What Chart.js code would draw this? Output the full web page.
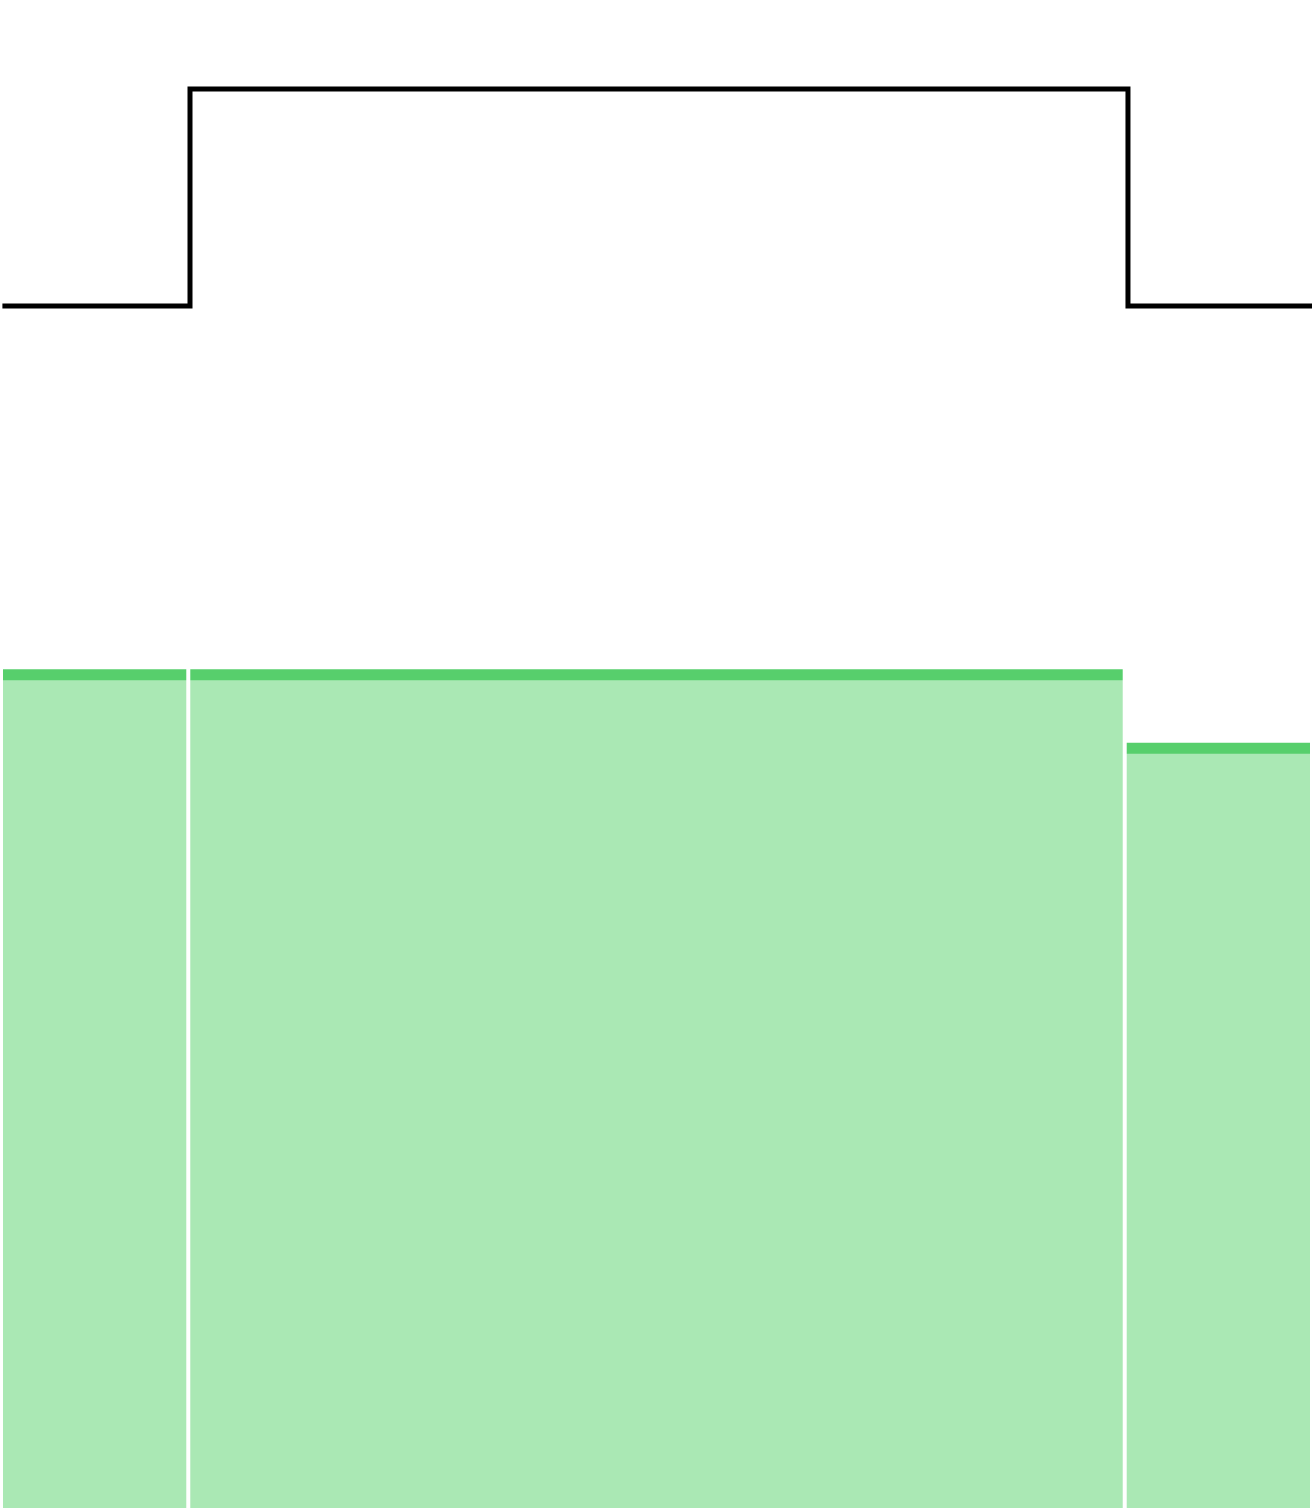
<!DOCTYPE html>
<html>
<head>
<meta charset="utf-8">
<script src="https://cdn.jsdelivr.net/npm/chart.js@4.4.1/dist/chart.umd.min.js"></script>
<style>
  html, body { margin: 0; padding: 0; background: #ffffff; }
  #wrap { width: 1312px; height: 1508px; position: relative; }
</style>
</head>
<body>
<div id="wrap"><canvas id="myChart"></canvas></div>
<script>
// Bin edges shared by the step line and the bars
const binEdges = [0, 1, 6, 7];
// Step line level per bin
const lineValues = [1, 2, 1];
// Bar height per bin
const barValues = [100, 100, 91.2];

const barDark = '#57cf6c';
const barLight = '#aae8b4';

// Step line: one point per edge, last bin value repeated at the closing edge
const linePoints = binEdges.map((e, i) => ({ x: e, y: lineValues[Math.min(i, lineValues.length - 1)] }));

// One filled dataset per bar, running from its left edge to its right edge
const barSets = barValues.map((v, i) => ({
    data: [{ x: binEdges[i], y: v }, { x: binEdges[i + 1], y: v }],
    yAxisID: 'yBar',
    borderColor: barDark,
    backgroundColor: barLight,
    borderWidth: 11,
    borderCapStyle: 'butt',
    fill: 'origin',
    pointRadius: 0,
    order: 3
}));

// White gaps between the bars, one vertical stroke per edge
const gapPoints = [];
binEdges.forEach(e => {
    gapPoints.push({ x: e, y: 0 }, { x: e, y: 181 }, { x: e, y: null });
});

const ctx = document.getElementById('myChart').getContext('2d');
new Chart(ctx, {
    type: 'line',
    data: {
        datasets: [
            ...barSets,
            {
                data: gapPoints,
                yAxisID: 'yBar',
                borderColor: '#ffffff',
                borderWidth: 4,
                borderCapStyle: 'butt',
                fill: false,
                pointRadius: 0,
                spanGaps: false,
                order: 2
            },
            {
                data: linePoints,
                xAxisID: 'xLine',
                yAxisID: 'yLine',
                stepped: 'before', // horizontal first, then vertical at the next edge
                borderColor: '#000000',
                borderWidth: 5,
                borderJoinStyle: 'miter',
                borderCapStyle: 'butt',
                fill: false,
                pointRadius: 0,
                order: 1
            }
        ]
    },
    options: {
        responsive: true,
        maintainAspectRatio: false,
        animation: false,
        layout: { padding: { left: 1, right: 0, top: 0, bottom: 0 } },
        scales: {
            x: { type: 'linear', min: 0, max: 7, display: false },
            xLine: { type: 'linear', min: -0.0075, max: 6.981, display: false },
            yBar: { type: 'linear', min: 0, max: 181, display: false },
            yLine: { type: 'linear', min: -4.54, max: 2.41, display: false }
        },
        plugins: {
            legend: { display: false },
            tooltip: { enabled: false }
        }
    }
});
</script>
</body>
</html>
